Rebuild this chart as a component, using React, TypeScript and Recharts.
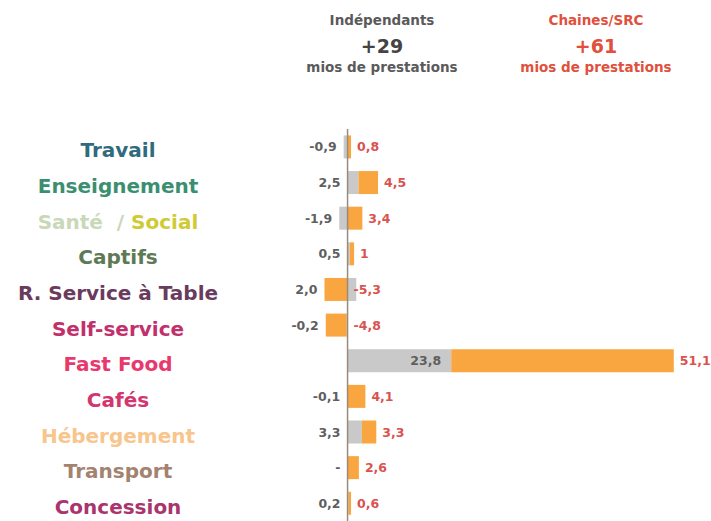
import React from 'react';
import { BarChart, Bar, XAxis, YAxis, ReferenceLine, LabelList } from 'recharts';

const categories = ['Travail', 'Enseignement', 'Santé  / Social', 'Captifs', 'R. Service à Table', 'Self-service', 'Fast Food', 'Cafés', 'Hébergement', 'Transport', 'Concession'];
const catColors = ['#2f6b7e', '#3b8f70', '#c9d8b8', '#5d7a55', '#6a3b5d', '#c2306c', '#e8386e', '#d2366e', '#f8c58c', '#a3826f', '#aa346d'];
const catColors2: (string | null)[] = [null, null, '#cfcb35', null, null, null, null, null, null, null, null];
const independants = [-0.9, 2.5, -1.9, 0.5, 2.0, -0.2, 23.8, -0.1, 3.3, 0, 0.2];
const chaines = [0.8, 4.5, 3.4, 1, -5.3, -4.8, 51.1, 4.1, 3.3, 2.6, 0.6];
const seriesNames = ['Indépendants', 'Chaines/SRC'];
const seriesTotals = ['+29', '+61'];
const totalUnit = 'mios de prestations';

const data = categories.map((c, i) => ({ cat: c, ind: independants[i], chn: chaines[i] }));

const FONT = '"DejaVu Sans", sans-serif';
const fmtGray = (v: number) => (v === 0 ? '-' : v.toFixed(1).replace('.', ','));
const fmtOrange = (v: number) => (v === 0 ? '-' : String(v).replace('.', ','));

function geom(p: any) {
  const i = p.index;
  const v = independants[i];
  const o = chaines[i];
  const x = Number(p.x), w = Number(p.width);
  const left = Math.min(x, x + w), right = Math.max(x, x + w);
  const k = (right - left) / Math.abs(o);
  const zero = o > 0 ? left - Math.max(v, 0) * k : right - Math.min(v, 0) * k;
  const rowLeft = zero + (Math.min(v, 0) + Math.min(o, 0)) * k;
  const rowRight = zero + (Math.max(v, 0) + Math.max(o, 0)) * k;
  return { v, o, k, zero, rowLeft, rowRight, cy: Number(p.y) + Number(p.height) / 2 };
}

const GrayLabel = (p: any) => {
  const g = geom(p);
  let tx: number;
  if (g.v > 10) tx = g.zero + g.v * g.k - 10;
  else tx = g.rowLeft - 7;
  return (
    <text x={tx} y={g.cy} dy="0.36em" textAnchor="end" fontFamily={FONT} fontWeight="bold" fontSize={12.5} fill="#5f5f5f">
      {fmtGray(g.v)}
    </text>
  );
};

const OrangeLabel = (p: any) => {
  const g = geom(p);
  const tx = (g.o > 0 ? g.rowRight : g.zero) + 6;
  return (
    <text x={tx} y={g.cy} dy="0.36em" textAnchor="start" fontFamily={FONT} fontWeight="bold" fontSize={12.5} fill="#d9534f">
      {fmtOrange(g.o)}
    </text>
  );
};

const CatTick = (p: any) => {
  const i = p.index;
  const label: string = p.payload.value;
  const c2 = catColors2[i];
  const cx = Number(p.x) - 178;
  const cy = Number(p.y) + 3;
  if (c2) {
    const [a, b] = label.split('/');
    return (
      <text x={cx} y={cy} dy="0.38em" textAnchor="middle" fontFamily={FONT} fontWeight="bold" fontSize={20} style={{ whiteSpace: 'pre' }}>
        <tspan fill={catColors[i]}>{a + '/'}</tspan>
        <tspan fill={c2}>{' ' + b.trim()}</tspan>
      </text>
    );
  }
  return (
    <text x={cx} y={cy} dy="0.38em" textAnchor="middle" fontFamily={FONT} fontWeight="bold" fontSize={20} fill={catColors[i]}>
      {label}
    </text>
  );
};

const headerStyle = (center: number, top: number, size: number, color: string): React.CSSProperties => ({
  position: 'absolute',
  left: center - 120,
  width: 240,
  top,
  textAlign: 'center',
  fontFamily: FONT,
  fontWeight: 'bold',
  fontSize: size,
  lineHeight: `${size + 2}px`,
  color,
  whiteSpace: 'nowrap',
});

export default function App() {
  const headColors = ['#5a5a5a', '#e0503c'];
  const centers = [382, 596];
  return (
    <div style={{ position: 'fixed', left: 0, top: 0, width: 711, height: 521, background: '#fff' }}>
      {seriesNames.map((n, i) => (
        <React.Fragment key={n}>
          <div style={headerStyle(centers[i], 13, 13.5, headColors[i])}>{n}</div>
          <div style={headerStyle(centers[i], 36, 19, i === 0 ? '#444' : headColors[i])}>{seriesTotals[i]}</div>
          <div style={headerStyle(centers[i], 60, 13.5, headColors[i])}>{totalUnit}</div>
        </React.Fragment>
      ))}
      <BarChart
        layout="vertical"
        width={711}
        height={521}
        data={data}
        stackOffset="sign"
        margin={{ top: 129, right: 15, bottom: 0, left: 0 }}
        barCategoryGap="18%"
      >
        <XAxis type="number" domain={[-10, 80]} hide />
        <YAxis type="category" dataKey="cat" width={304} axisLine={false} tickLine={false} tick={<CatTick />} interval={0} />
        <Bar dataKey="ind" stackId="a" fill="#c9c9c9" isAnimationActive={false} />
        <Bar dataKey="chn" stackId="a" fill="#f9a640" isAnimationActive={false}>
          <LabelList dataKey="ind" content={<GrayLabel />} />
          <LabelList dataKey="chn" content={<OrangeLabel />} />
        </Bar>
        <ReferenceLine x={0} stroke="#9a8a7c" strokeWidth={1.5} ifOverflow="extendDomain" />
      </BarChart>
    </div>
  );
}
